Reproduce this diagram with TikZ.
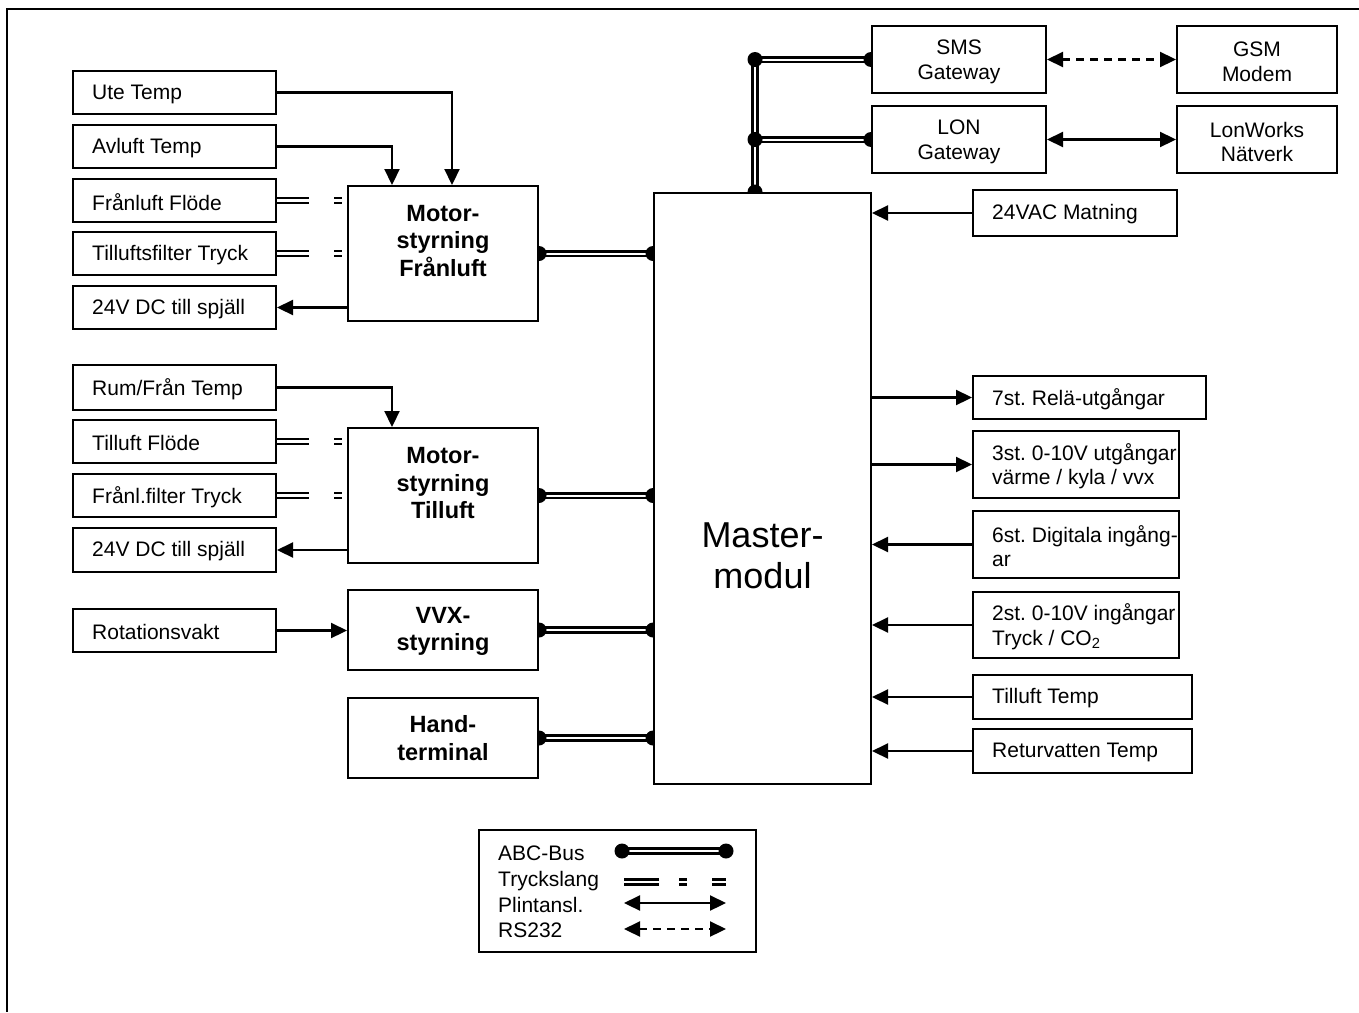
\documentclass[tikz,border=0pt]{standalone}
\usepackage{fontspec}
\setmainfont{Liberation Sans}
\usetikzlibrary{arrows.meta}
\pgfdeclarelayer{bg}
\pgfsetlayers{bg,main}
\frenchspacing
\newcommand\myreg{\fontsize{21}{24.5}\selectfont}
\newcommand\mybold{\fontsize{23.5}{27.5}\selectfont\bfseries}
\newcommand\mybig{\fontsize{36}{41}\selectfont}
\begin{document}
\begin{tikzpicture}[x=1pt,y=-1pt,
  box/.style={draw, line width=2pt, fill=white, inner sep=0pt, anchor=north west},
  tb/.style={box, label={[anchor=west, xshift=20pt, yshift=-1.5pt, inner sep=0pt, align=left, font=\myreg]west:#1}},
  cb/.style={box, label={[inner sep=0pt, yshift=-2.5pt, align=center, font=\myreg]center:#1}},
  lsz/.style={minimum width=203pt, minimum height=43pt},
  arr/.style={line width=2.2pt, -{Triangle[length=16pt,width=15pt]}},
  darr/.style={line width=2.2pt, {Triangle[length=16pt,width=15pt]}-{Triangle[length=16pt,width=15pt]}},
  bus/.style={double, line width=2.8pt, double distance=2pt},
  hose/.style={double, line width=2.4pt, double distance=2.4pt},
  dotr/.style={radius=7.5pt}
]
\useasboundingbox (0,0) rectangle (1359,1012);
\draw[line width=2pt] (1359,9) -- (7,9) -- (7,1012);

% left inputs
\node[tb={Ute Temp}, lsz] (ute) at (72,70) {};
\node[tb={Avluft Temp}, lsz] (avl) at (72,124) {};
\node[tb={Frånluft Flöde}, lsz] (fl) at (72,178) {};
\node[tb={Tilluftsfilter Tryck}, lsz] (tf) at (72,231) {};
\node[tb={24V DC till spjäll}, lsz] (dc1) at (72,285) {};
\node[tb={Rum/Från Temp}, lsz, minimum height=45pt] (rum) at (72,364) {};
\node[tb={Tilluft Flöde}, lsz] (tl) at (72,419) {};
\node[tb={Frånl.filter Tryck}, lsz] (ft) at (72,473) {};
\node[tb={24V DC till spjäll}, lsz, minimum height=44pt] (dc2) at (72,527) {};
\node[tb={Rotationsvakt}, lsz] (rot) at (72,608) {};

% centre blocks
\node[box, minimum width=190pt, minimum height=135pt] (mf) at (347,185) {};
\node[font=\mybold, align=center, inner sep=0pt] (mft) at ([yshift=12.5pt]mf.center) {Motor-\\styrning\\Frånluft};
\node[box, minimum width=190pt, minimum height=135pt] (mt) at (347,427) {};
\node[font=\mybold, align=center, inner sep=0pt] (mtt) at ([yshift=12pt]mt.center) {Motor-\\styrning\\Tilluft};
\node[box, minimum width=190pt, minimum height=80pt] (vvx) at (347,589) {};
\node[font=\mybold, align=center, inner sep=0pt] (vvxt) at ([yshift=-1.5pt]vvx.center) {VVX-\\styrning};
\node[box, minimum width=190pt, minimum height=80pt] (hand) at (347,697) {};
\node[font=\mybold, align=center, inner sep=0pt] (handt) at (hand.center) {Hand-\\terminal};
\node[box, minimum width=217pt, minimum height=591pt] (mm) at (653,192) {};
\node[font=\mybig, align=center, inner sep=0pt] (mmt) at ([yshift=-67.5pt]mm.center) {Master-\\modul};

% right side
\node[cb={SMS\\Gateway}, minimum width=174pt, minimum height=67pt] (sms) at (871,25) {};
\node[cb={GSM\\Modem}, minimum width=160pt, minimum height=67pt] (gsm) at (1176,25) {};
\node[cb={LON\\Gateway}, minimum width=174pt, minimum height=67pt] (lon) at (871,105) {};
\node[cb={LonWorks\\Nätverk}, minimum width=160pt, minimum height=67pt] (lw) at (1176,105) {};
\node[tb={24VAC Matning}, minimum width=204pt, minimum height=46pt] (mat) at (972,189) {};
\node[tb={7st. Relä-utgångar}, minimum width=233pt, minimum height=43pt] (rel) at (972,375) {};
\node[tb={3st. 0-10V utgångar\\värme / kyla / vvx}, minimum width=206pt, minimum height=67pt] (ut) at (972,430) {};
\node[tb={6st. Digitala ingång-\\ar}, minimum width=206pt, minimum height=67pt] (di) at (972,510) {};
\node[tb={2st. 0-10V ingångar\\Tryck / CO\textsubscript{2}}, minimum width=206pt, minimum height=66pt] (ai) at (972,591) {};
\node[tb={Tilluft Temp}, minimum width=219pt, minimum height=44pt] (tt) at (972,674) {};
\node[tb={Returvatten Temp}, minimum width=219pt, minimum height=44pt] (rv) at (972,728) {};

% legend
\node[box, minimum width=277pt, minimum height=122pt] (leg) at (478,829) {};
\node[font=\myreg, anchor=base west, inner sep=0pt] (l1) at (498,860) {ABC-Bus};
\node[font=\myreg, anchor=base west, inner sep=0pt] (l2) at (498,886) {Tryckslang};
\node[font=\myreg, anchor=base west, inner sep=0pt] (l3) at (498,912) {Plintansl.};
\node[font=\myreg, anchor=base west, inner sep=0pt] (l4) at (498,937) {RS232};
\coordinate (a1) at (622,851); \coordinate (a2) at (726,851);
\coordinate (b1) at (624,882); \coordinate (b2) at (659,882);
\coordinate (b3) at (679,882); \coordinate (b4) at (687,882);
\coordinate (b5) at (712,882); \coordinate (b6) at (726,882);
\coordinate (c1) at (624,903); \coordinate (c2) at (726,903);
\coordinate (d1) at (624,929); \coordinate (d2) at (726,929);
\draw[bus] (a1) -- (a2);
\fill (a1) circle[dotr]; \fill (a2) circle[dotr];
\draw[hose] (b1) -- (b2);
\draw[hose] (b3) -- (b4);
\draw[hose] (b5) -- (b6);
\draw[darr] (c1) -- (c2);
\draw[darr, dash pattern=on 8pt off 6pt] (d1) -- (d2);

\begin{pgfonlayer}{bg}
% upper motor block
\draw[arr] (ute.east) -| ([xshift=105pt]mf.north west);
\draw[arr] (avl.east) -| ([xshift=45pt]mf.north west);
\draw[hose] (fl.east) -- ++(32,0);
\draw[hose] ([xshift=57pt]fl.east) -- ++(8,0);
\draw[hose] (tf.east) -- ++(32,0);
\draw[hose] ([xshift=57pt]tf.east) -- ++(8,0);
\draw[arr] (mf.west |- dc1.east) -- (dc1.east);
\draw[bus] (mf.east) -- (mm.west |- mf.east);
\fill (mf.east) circle[dotr]; \fill (mm.west |- mf.east) circle[dotr];
% lower motor block
\draw[arr] (rum.east) -| ([xshift=45pt]mt.north west);
\draw[hose] (tl.east) -- ++(32,0);
\draw[hose] ([xshift=57pt]tl.east) -- ++(8,0);
\draw[hose] (ft.east) -- ++(32,0);
\draw[hose] ([xshift=57pt]ft.east) -- ++(8,0);
\draw[arr] (mt.west |- dc2.east) -- (dc2.east);
\draw[bus] (mt.east) -- (mm.west |- mt.east);
\fill (mt.east) circle[dotr]; \fill (mm.west |- mt.east) circle[dotr];
% VVX and hand terminal
\draw[arr] (rot.east) -- (vvx.west |- rot.east);
\draw[bus] (vvx.east) -- (mm.west |- vvx.east);
\fill (vvx.east) circle[dotr]; \fill (mm.west |- vvx.east) circle[dotr];
\draw[bus] (hand.east) -- (mm.west |- hand.east);
\fill (hand.east) circle[dotr]; \fill (mm.west |- hand.east) circle[dotr];
% top bus
\coordinate (mtop) at ([xshift=102pt]mm.north west);
\coordinate (j1) at (mtop |- sms.west);
\coordinate (j2) at (mtop |- lon.west);
\draw[bus] (mtop) -- (j1) -- (sms.west);
\draw[bus] (j2) -- (lon.west);
\fill (mtop) circle[dotr]; \fill (j1) circle[dotr]; \fill (j2) circle[dotr];
\fill (sms.west) circle[dotr]; \fill (lon.west) circle[dotr];
\draw[darr, dash pattern=on 8pt off 6pt] (sms.east) -- (gsm.west);
\draw[darr] (lon.east) -- (lw.west);
% right side I/O
\draw[arr] (mat.west) -- (mm.east |- mat.west);
\draw[arr] (mm.east |- rel.west) -- (rel.west);
\draw[arr] (mm.east |- ut.west) -- (ut.west);
\draw[arr] (di.west) -- (mm.east |- di.west);
\draw[arr] (ai.west) -- (mm.east |- ai.west);
\draw[arr] (tt.west) -- (mm.east |- tt.west);
\draw[arr] (rv.west) -- (mm.east |- rv.west);
\end{pgfonlayer}
\end{tikzpicture}
\end{document}
